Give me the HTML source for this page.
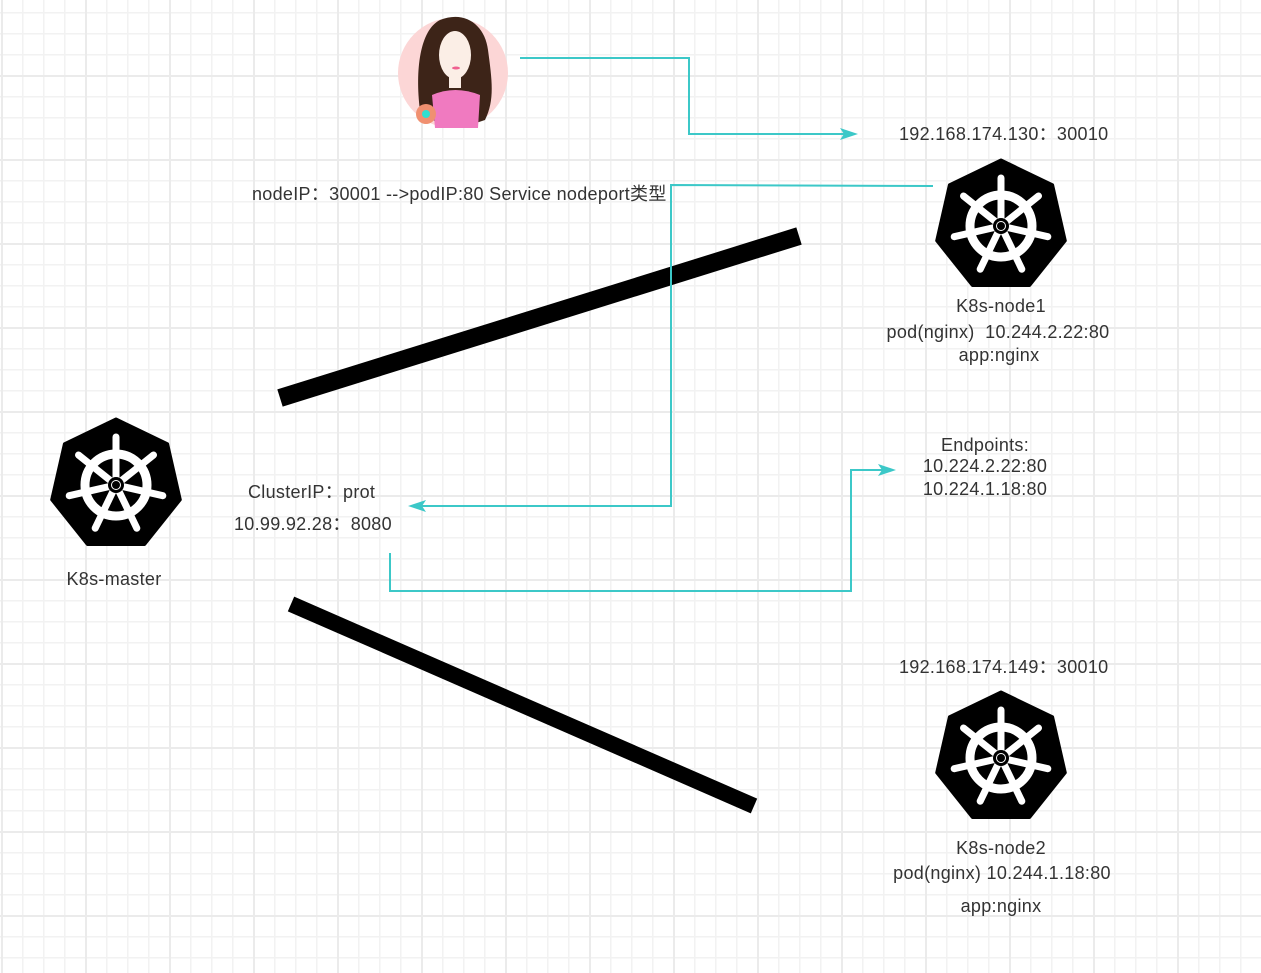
<!DOCTYPE html>
<html><head><meta charset="utf-8"><style>
html,body{margin:0;padding:0}
body{width:1261px;height:973px;position:relative;overflow:hidden;background-color:#fff;
background-image:
linear-gradient(to right,#ebebeb 2px,transparent 2px),
linear-gradient(to bottom,#ebebeb 2px,transparent 2px),
linear-gradient(to right,#f2f2f2 1.5px,transparent 1.5px),
linear-gradient(to bottom,#f2f2f2 1.5px,transparent 1.5px);
background-size:84px 84px,84px 84px,21px 21px,21px 21px;
background-position:85px 0,0 75px,1px 0,0 12px;
font-family:"Liberation Sans","Noto Sans CJK SC",sans-serif;color:#333;}
.t{position:absolute;font-size:18px;letter-spacing:0.3px;white-space:nowrap;line-height:20px}
.c{transform:translateX(-50%)}
svg{position:absolute;left:0;top:0}
</style></head><body>
<svg width="1261" height="973" viewBox="0 0 1261 973">
<defs>
<symbol id="k8s" viewBox="-68 -68 136 136" overflow="visible">
<polygon points="0,-66 51.6,-41.1 64.3,14.7 28.6,59.5 -28.6,59.5 -64.3,14.7 -51.6,-41.1" fill="#000" stroke="#000" stroke-width="3" stroke-linejoin="round"/>
<g stroke="#fff" fill="none">
<circle r="31" stroke-width="9"/>
<g stroke-width="7" stroke-linecap="round">
<line x1="0" y1="0" x2="0" y2="-48"/>
<line x1="0" y1="0" x2="37.5" y2="-30"/>
<line x1="0" y1="0" x2="46.8" y2="10.7"/>
<line x1="0" y1="0" x2="20.8" y2="43.2"/>
<line x1="0" y1="0" x2="-20.8" y2="43.2"/>
<line x1="0" y1="0" x2="-46.8" y2="10.7"/>
<line x1="0" y1="0" x2="-37.5" y2="-30"/>
</g></g>
<circle r="8" fill="#000"/><circle r="5" fill="#fff"/><circle r="4" fill="#000"/>
</symbol>
</defs>
<use href="#k8s" x="933" y="158" width="136" height="136"/>
<use href="#k8s" x="48" y="417" width="136" height="136"/>
<use href="#k8s" x="933" y="690" width="136" height="136"/>
<!-- person -->
<circle cx="453" cy="73" r="55" fill="#fcd6d6"/>
<path d="M420,110 C415,70 420,30 440,20 C465,10 485,25 488,50 C492,80 495,100 485,120 L470,125 L440,125 Z" fill="#3d2418"/>
<ellipse cx="455" cy="55" rx="16" ry="24" fill="#fbeee6"/>
<rect x="449" y="74" width="12" height="14" fill="#fbeee6"/>
<path d="M432,95 Q455,85 480,95 L478,128 L435,128 Z" fill="#f07ac0"/>
<ellipse cx="456" cy="68" rx="4" ry="1.5" fill="#f06090"/>
<circle cx="426" cy="114" r="10" fill="#f09070"/><circle cx="426" cy="114" r="4" fill="#30e0d0"/>
<!-- black thick lines -->
<line x1="280" y1="398" x2="799" y2="236" stroke="#000" stroke-width="18"/>
<line x1="291" y1="604" x2="754" y2="806" stroke="#000" stroke-width="16"/>
<!-- cyan connectors -->
<g stroke="#3cc8c8" stroke-width="2" fill="none">
<polyline points="520,58 689,58 689,134 845,134"/>
<polyline points="933,186 671,185 671,506 422,506"/>
<polyline points="390,553 390,591 851,591 851,470 883,470"/>
</g>
<g fill="#3cc8c8">
<polygon points="858,134 840,128 844,134 840,140"/>
<polygon points="408,506 426,500 422,506 426,512"/>
<polygon points="896,470 878,464 882,470 878,476"/>
</g>
</svg>
<div class="t" style="left:899px;top:124px">192.168.174.130：30010</div>
<div class="t" style="left:252px;top:184px">nodeIP：30001 -->podIP:80 Service nodeport类型</div>
<div class="t c" style="left:1001px;top:296px">K8s-node1</div>
<div class="t c" style="left:998px;top:322px">pod(nginx)&nbsp; 10.244.2.22:80</div>
<div class="t c" style="left:999px;top:345px">app:nginx</div>
<div class="t c" style="left:985px;top:435px">Endpoints:</div>
<div class="t c" style="left:985px;top:456px">10.224.2.22:80</div>
<div class="t c" style="left:985px;top:479px">10.224.1.18:80</div>
<div class="t" style="left:248px;top:482px">ClusterIP：prot</div>
<div class="t" style="left:234px;top:514px">10.99.92.28：8080</div>
<div class="t c" style="left:114px;top:569px">K8s-master</div>
<div class="t" style="left:899px;top:657px">192.168.174.149：30010</div>
<div class="t c" style="left:1001px;top:838px">K8s-node2</div>
<div class="t c" style="left:1002px;top:863px">pod(nginx) 10.244.1.18:80</div>
<div class="t c" style="left:1001px;top:896px">app:nginx</div>
</body></html>
